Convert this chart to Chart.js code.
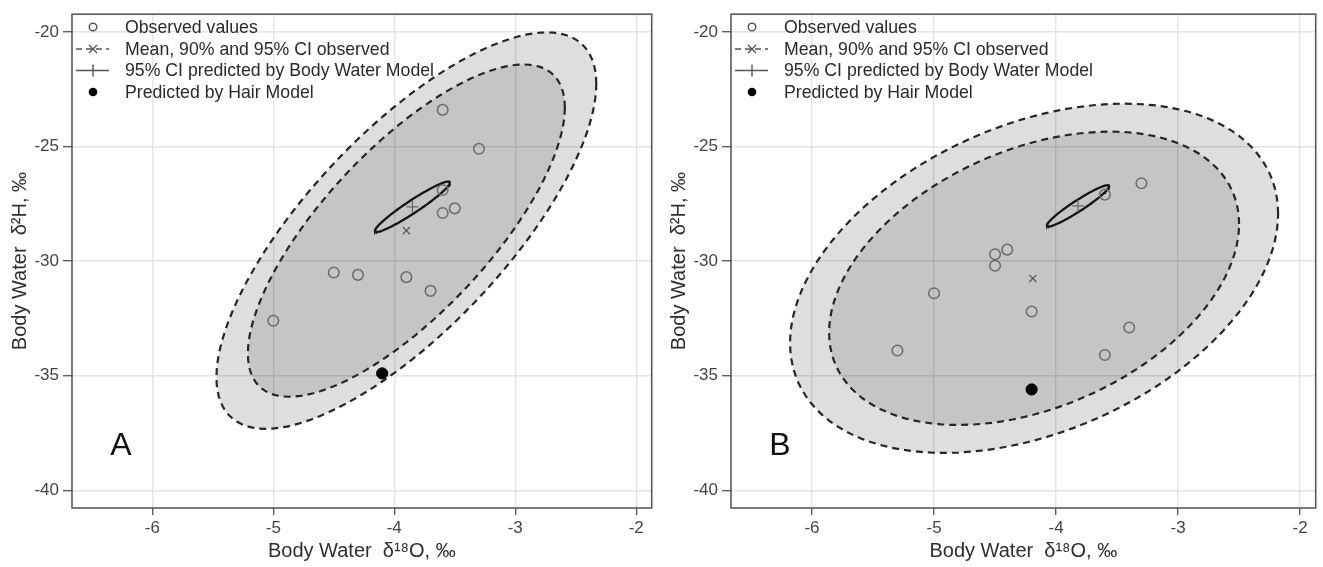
<!DOCTYPE html>
<html>
<head>
<meta charset="utf-8">
<script src="https://cdn.jsdelivr.net/npm/chart.js@4/dist/chart.umd.min.js"></script>
<style>
  html, body { margin: 0; padding: 0; background: #fff; }
  .panel { position: absolute; top: 0; height: 567px; }
  #wrapA { left: 0; width: 659px; }
  #wrapB { left: 659px; width: 664px; }
</style>
</head>
<body>
<div id="wrapA" class="panel"><canvas id="chartA"></canvas></div>
<div id="wrapB" class="panel"><canvas id="chartB"></canvas></div>
<script>
// axis ticks (both panels share them)
var xTicks = [-6, -5, -4, -3, -2];
var yTicks = [-40, -35, -30, -25, -20];

// panel A: observed values
var obsXA = [-3.6, -3.3, -3.6, -3.6, -3.5, -4.5, -4.3, -3.9, -3.7, -5.0];
var obsYA = [-23.4, -25.1, -26.9, -27.9, -27.7, -30.5, -30.6, -30.7, -31.3, -32.6];
var meanA = [-3.9, -28.67];
var predA = [-3.85, -27.63];   // body water model
var hairA = [-4.1, -34.9];     // hair model
// ellipses: centre x, centre y, half width (x), half height (y), correlation
var obsCI95A = [-3.9, -28.67, 1.57, 8.65, 0.74];
var obsCI90A = [-3.9, -28.67, 1.31, 7.25, 0.74];
var modelCI95A = [-3.85, -27.63, 0.31, 1.10, 0.955];

// panel B
var obsXB = [-5.3, -5.0, -4.5, -4.5, -4.4, -4.2, -3.6, -3.4, -3.3, -3.6];
var obsYB = [-33.9, -31.4, -29.7, -30.2, -29.5, -32.2, -34.1, -32.9, -26.6, -27.1];
var meanB = [-4.19, -30.76];
var predB = [-3.82, -27.59];
var hairB = [-4.2, -35.6];
var obsCI95B = [-4.18, -30.75, 2.0, 7.62, 0.37];
var obsCI90B = [-4.18, -30.75, 1.68, 6.4, 0.37];
var modelCI95B = [-3.82, -27.59, 0.255, 0.9, 0.95];

var legendLabels = ['Observed values', 'Mean, 90% and 95% CI observed',
  '95% CI predicted by Body Water Model', 'Predicted by Hair Model'];

Chart.defaults.font.family = "'Liberation Sans', Arial, sans-serif";

function ellipse(p) {
  var q = Math.sqrt(1 - p[4] * p[4]);
  var pts = [];
  for (var i = 0; i <= 120; i++) {
    var t = 2 * Math.PI * i / 120;
    pts.push({ x: p[0] + p[2] * Math.cos(t), y: p[1] + p[3] * (p[4] * Math.cos(t) + q * Math.sin(t)) });
  }
  return pts;
}

function pairs(xs, ys) {
  return xs.map(function (x, i) { return { x: x, y: ys[i] }; });
}

// panel frame, legend and panel letter
var decorations = {
  id: 'decorations',
  afterDatasetsDraw: function (chart, args, opts) {
    var ctx = chart.ctx, a = chart.chartArea;
    ctx.save();
    ctx.strokeStyle = '#595959';
    ctx.lineWidth = 1.6;
    ctx.strokeRect(a.left, a.top, a.right - a.left, a.bottom - a.top);

    var sx = a.left + 21, tx = a.left + 53;
    var rows = [27, 49, 70.5, 92];
    ctx.font = "17.7px 'Liberation Sans', Arial, sans-serif";
    ctx.textBaseline = 'middle';
    ctx.fillStyle = '#2a2a2a';
    legendLabels.forEach(function (txt, i) { ctx.fillText(txt, tx, rows[i] + 1); });

    ctx.strokeStyle = '#555';
    ctx.lineWidth = 1.4;
    ctx.beginPath(); ctx.arc(sx, rows[0], 3.8, 0, 2 * Math.PI); ctx.stroke();

    ctx.setLineDash([6, 4]);
    ctx.beginPath(); ctx.moveTo(sx - 17, rows[1]); ctx.lineTo(sx + 16, rows[1]); ctx.stroke();
    ctx.setLineDash([]);
    ctx.beginPath();
    ctx.moveTo(sx - 4, rows[1] - 4); ctx.lineTo(sx + 4, rows[1] + 4);
    ctx.moveTo(sx - 4, rows[1] + 4); ctx.lineTo(sx + 4, rows[1] - 4);
    ctx.stroke();

    ctx.beginPath();
    ctx.moveTo(sx - 17, rows[2]); ctx.lineTo(sx + 16, rows[2]);
    ctx.moveTo(sx, rows[2] - 6); ctx.lineTo(sx, rows[2] + 6);
    ctx.stroke();

    ctx.fillStyle = '#000';
    ctx.beginPath(); ctx.arc(sx, rows[3], 4.3, 0, 2 * Math.PI); ctx.fill();

    ctx.fillStyle = '#111';
    ctx.font = "32px 'Liberation Sans', Arial, sans-serif";
    ctx.textAlign = 'center';
    ctx.fillText(opts.letter, a.left + 49, 446);
    ctx.restore();
  }
};

function makeChart(id, letter, padRight, d) {
  return new Chart(id, {
    type: 'scatter',
    data: {
      datasets: [{
        type: 'line', data: ellipse(d.ci95), showLine: true, pointRadius: 0,
        borderColor: '#262626', borderWidth: 2.2, borderDash: [7, 5],
        backgroundColor: 'rgba(0,0,0,0.13)', fill: 'shape', tension: 0, order: 7
      }, {
        type: 'line', data: ellipse(d.ci90), showLine: true, pointRadius: 0,
        borderColor: '#262626', borderWidth: 2.2, borderDash: [7, 5],
        backgroundColor: 'rgba(0,0,0,0.115)', fill: 'shape', tension: 0, order: 6
      }, {
        type: 'line', data: ellipse(d.model), showLine: true, pointRadius: 0,
        borderColor: '#151515', borderWidth: 2.3, fill: false, tension: 0, order: 5
      }, {
        data: pairs(d.obsX, d.obsY), pointStyle: 'circle', pointRadius: 5.3,
        pointBorderWidth: 1.5, borderColor: '#6b6b6b', backgroundColor: 'rgba(0,0,0,0)', order: 4
      }, {
        data: [{ x: d.mean[0], y: d.mean[1] }], pointStyle: 'crossRot', pointRadius: 5,
        pointBorderWidth: 1.4, borderColor: '#5e5e5e', order: 3
      }, {
        data: [{ x: d.pred[0], y: d.pred[1] }], pointStyle: 'cross', pointRadius: 6,
        pointBorderWidth: 1.3, borderColor: '#6a6a6a', order: 2
      }, {
        data: [{ x: d.hair[0], y: d.hair[1] }], pointStyle: 'circle', pointRadius: 5.6,
        borderColor: '#000', backgroundColor: '#000', order: 1
      }]
    },
    options: {
      responsive: true,
      maintainAspectRatio: false,
      animation: false,
      layout: { padding: { left: 0, top: 7, right: padRight, bottom: 0 } },
      plugins: {
        legend: { display: false },
        tooltip: { enabled: false },
        decorations: { letter: letter }
      },
      scales: {
        x: {
          type: 'linear', min: -6.664, max: -1.872,
          afterBuildTicks: function (s) { s.ticks = xTicks.map(function (v) { return { value: v }; }); },
          afterFit: function (s) { s.height = 59; },
          border: { display: false },
          grid: { color: '#e4e4e4', lineWidth: 1.4, tickLength: 7, tickColor: '#555', tickWidth: 1.3 },
          ticks: { color: '#444', font: { size: 17 }, padding: 3, maxRotation: 0 },
          title: {
            display: true, text: 'Body Water  δ¹⁸O, ‰', color: '#2f2f2f',
            font: { size: 20 }, padding: { top: 0, bottom: 4 }
          }
        },
        y: {
          type: 'linear', min: -40.774, max: -19.226,
          afterBuildTicks: function (s) { s.ticks = yTicks.map(function (v) { return { value: v }; }); },
          afterFit: function (s) { s.width = 72; },
          border: { display: false },
          grid: { color: '#e4e4e4', lineWidth: 1.4, tickLength: 9, tickColor: '#555', tickWidth: 1.3 },
          ticks: { color: '#444', font: { size: 17 }, padding: 4 },
          title: {
            display: true, text: 'Body Water  δ²H, ‰', color: '#2f2f2f',
            font: { size: 20 }, padding: { top: 8, bottom: 0 }
          }
        }
      }
    },
    plugins: [decorations]
  });
}

makeChart('chartA', 'A', 0, {
  ci95: obsCI95A, ci90: obsCI90A, model: modelCI95A,
  obsX: obsXA, obsY: obsYA, mean: meanA, pred: predA, hair: hairA
});
makeChart('chartB', 'B', 5, {
  ci95: obsCI95B, ci90: obsCI90B, model: modelCI95B,
  obsX: obsXB, obsY: obsYB, mean: meanB, pred: predB, hair: hairB
});
</script>
</body>
</html>
